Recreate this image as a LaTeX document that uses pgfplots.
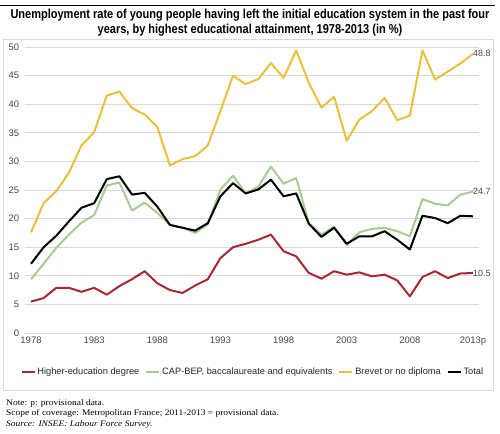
\documentclass[border=0pt]{standalone}
\usepackage{pgfplots}
\usepackage{pgfplotstable}
\pgfplotsset{compat=1.18}
\usepackage{fontspec}
\setmainfont{Liberation Sans}
\newfontfamily\titlefont[FakeStretch=0.85]{Liberation Sans}
\newfontfamily\notefont[FakeStretch=1.12]{Liberation Serif}

\definecolor{cred}{RGB}{168,40,50}
\definecolor{cgreen}{RGB}{165,205,145}
\definecolor{cyellow}{RGB}{232,192,60}
\definecolor{cgrid}{RGB}{217,217,217}
\definecolor{ctick}{RGB}{70,70,70}

\pgfplotstableread{
year red green yellow total
1978 5.5 9.4 17.6 12.1
1979 6.1 12.1 22.7 15.0
1980 7.9 14.9 24.8 17.0
1981 7.9 17.2 28.0 19.5
1982 7.2 19.3 32.8 21.9
1983 7.9 20.6 35.1 22.7
1984 6.7 25.8 41.5 26.9
1985 8.2 26.3 42.2 27.4
1986 9.4 21.4 39.3 24.2
1987 10.8 22.8 38.2 24.5
1988 8.7 21.0 36.0 22.1
1989 7.5 18.9 29.3 18.9
1990 7.0 18.4 30.4 18.4
1991 8.3 17.5 30.9 17.9
1992 9.4 19.0 32.8 19.2
1993 13.1 25.1 38.8 23.9
1994 15.0 27.5 45.0 26.2
1995 15.6 24.4 43.5 24.4
1996 16.3 25.6 44.4 25.1
1997 17.2 29.1 47.2 26.8
1998 14.3 26.1 44.6 23.9
1999 13.4 27.1 49.4 24.4
2000 10.5 19.2 43.7 19.1
2001 9.5 17.2 39.4 16.8
2002 10.8 18.6 41.3 18.4
2003 10.2 15.4 33.6 15.6
2004 10.6 17.6 37.3 16.9
2005 9.9 18.2 38.8 16.9
2006 10.2 18.4 41.1 17.8
2007 9.2 17.8 37.2 16.3
2008 6.4 16.9 38.0 14.6
2009 9.8 23.4 49.4 20.5
2010 10.8 22.6 44.3 20.1
2011 9.6 22.3 45.7 19.2
2012 10.4 24.2 47.1 20.5
2013 10.5 24.7 48.8 20.4
}\datatable

\begin{document}
\begin{tikzpicture}
\useasboundingbox (0,0) rectangle (500bp,-434bp);
\draw[black, line width=0.6bp] (0bp,-5bp) -- (495bp,-5bp);
\node[font=\titlefont\bfseries\fontsize{13}{15}\selectfont, align=center] at (250bp,-22.5bp)
  {Unemployment rate of young people having left the initial education system in the past four\\years, by highest educational attainment, 1978-2013 (in \%)};
\draw[cgrid, line width=0.8bp] (3bp,-39bp) rectangle (493bp,-390bp);

\begin{axis}[
  at={(24.7bp,-333bp)}, anchor=south west,
  scale only axis, width=454.6bp, height=286bp,
  xmin=1977.5, xmax=2013.5, ymin=0, ymax=50,
  ytick={0,5,...,50},
  xtick={1978,1983,1988,1993,1998,2003,2008,2013},
  xticklabels={1978,1983,1988,1993,1998,2003,2008,2013p},
  ymajorgrids, grid style={cgrid, line width=0.9bp},
  axis x line*=bottom, axis y line*=left,
  x axis line style={cgrid, line width=0.9bp, -},
  y axis line style={draw=none},
  tick style={draw=none},
  tick label style={font=\fontsize{9.5}{11}\selectfont, text=ctick},
  /pgf/number format/assume math mode=true,
  yticklabel style={xshift=-2bp},
  legend columns=4,
  legend style={at={(axis description cs:0.502,-0.136)}, anchor=center, draw=none,
    font=\fontsize{9.3}{11}\selectfont, text=black!85,
    /tikz/every even column/.append style={column sep=4bp}},
  legend image code/.code={\draw[#1, line width=1.8bp] (0bp,0bp) -- (13bp,0bp);},
  every axis plot/.append style={line width=2bp, line join=round},
  clip=false,
]
\addplot[cred, no markers] table[x=year, y=red] {\datatable};
\addlegendentry{Higher-education degree}
\addplot[cgreen, no markers] table[x=year, y=green] {\datatable};
\addlegendentry{CAP-BEP, baccalaureate and equivalents}
\addplot[cyellow, no markers] table[x=year, y=yellow] {\datatable};
\addlegendentry{Brevet or no diploma}
\addplot[black, no markers] table[x=year, y=total] {\datatable};
\addlegendentry{Total}
\node[anchor=west, inner sep=0pt, font=\fontsize{9}{10}\selectfont, text=ctick] at (axis cs:2013,48.8) {48.8};
\node[anchor=west, inner sep=0pt, font=\fontsize{9}{10}\selectfont, text=ctick] at (axis cs:2013,24.7) {24.7};
\node[anchor=west, inner sep=0pt, font=\fontsize{9}{10}\selectfont, text=ctick] at (axis cs:2013,10.5) {10.5};
\end{axis}

\node[anchor=north west, align=left, inner sep=0pt, font=\notefont\fontsize{8.5}{10.5}\selectfont] at (6bp,-399bp)
  {Note: p: provisional data.\\Scope of coverage: Metropolitan France; 2011-2013 = provisional data.\\\textit{Source: INSEE: Labour Force Survey.}};
\end{tikzpicture}
\end{document}
